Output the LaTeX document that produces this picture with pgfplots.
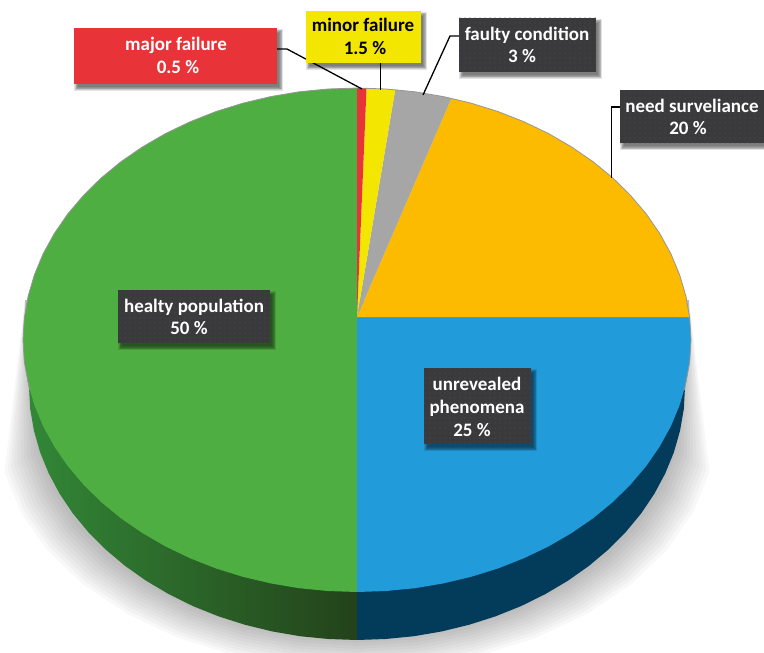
\documentclass[border=0pt]{standalone}
\usepackage{pgfplots}
\pgfplotsset{compat=1.18}
\usepackage{pgfplotstable}
\usepackage{fontspec}
\setmainfont{Carlito}
\usetikzlibrary{patterns.meta}

\definecolor{cGreen}{RGB}{79,174,66}
\definecolor{cBlue}{RGB}{33,155,217}
\definecolor{cOrange}{RGB}{253,187,0}
\definecolor{cGrey}{RGB}{166,166,166}
\definecolor{cYellow}{RGB}{243,230,0}
\definecolor{cRed}{RGB}{232,51,56}
\definecolor{cSideBlue}{RGB}{3,59,90}
\definecolor{cSideGreenA}{RGB}{50,135,55}
\definecolor{cSideGreenB}{RGB}{33,98,38}
\definecolor{cSideGreenC}{RGB}{35,66,26}
\definecolor{cBox}{RGB}{58,58,60}
\definecolor{cDot}{RGB}{76,76,78}
\definecolor{cRim}{RGB}{150,150,150}

% Unit half ellipse for the cast shadow; w=0 marks the fixed flank points given in pixels
\pgfplotstableread{
u v w
25 300 0
-0.9848 0.1736 1
-0.9397 0.3420 1
-0.8660 0.5000 1
-0.7660 0.6428 1
-0.6428 0.7660 1
-0.5000 0.8660 1
-0.3420 0.9397 1
-0.1736 0.9848 1
0 1 1
0.1736 0.9848 1
0.3420 0.9397 1
0.5000 0.8660 1
0.6428 0.7660 1
0.7660 0.6428 1
0.8660 0.5000 1
0.9397 0.3420 1
0.9848 0.1736 1
689 300 0
}\shadowtab

% Upper rim of the disc, drawn as a fine grey edge
\pgfplotstableread{
x y
29.6 390
24.3 362
23 340
24.3 318
28.1 296.2
34.4 274.8
43.1 253.8
54.3 233.5
67.7 214
83.4 195.5
101.1 178
120.8 161.8
142.3 147
165.4 133.6
190 121.8
215.8 111.6
242.8 103.2
270.6 96.6
299 91.8
327.9 89
357 88
386.1 89
415 91.8
443.4 96.6
471.2 103.2
498.2 111.6
524 121.8
548.6 133.6
571.7 147
593.2 161.8
612.9 178
630.6 195.5
646.3 214
659.7 233.5
670.9 253.8
679.6 274.8
685.9 296.2
689.7 318
691 340
689.7 362
684.4 390
}\rimtab

% Label box: soft drop shadow built from widening translucent rectangles, then the face
\newcommand{\shadowring}[5]{%
  \fill[black,opacity=0.11,xshift=3bp,yshift=-4bp]
    (axis cs:#1-#5,#2-#5) rectangle (axis cs:#3+#5,#4+#5);}
\newcommand{\boxshadow}[4]{%
  \shadowring{#1}{#2}{#3}{#4}{3}%
  \shadowring{#1}{#2}{#3}{#4}{2.2}%
  \shadowring{#1}{#2}{#3}{#4}{1.5}%
  \shadowring{#1}{#2}{#3}{#4}{0.8}%
  \shadowring{#1}{#2}{#3}{#4}{0}%
  \shadowring{#1}{#2}{#3}{#4}{-0.8}%
}
\newcommand{\darkbox}[4]{%
  \boxshadow{#1}{#2}{#3}{#4}%
  \fill[cBox] (axis cs:#1,#2) rectangle (axis cs:#3,#4);
  \fill[pattern={Dots[distance=5bp,radius=0.55bp]},pattern color=cDot] (axis cs:#1,#2) rectangle (axis cs:#3,#4);
}
\newcommand{\flatbox}[5]{%
  \boxshadow{#1}{#2}{#3}{#4}%
  \fill[#5] (axis cs:#1,#2) rectangle (axis cs:#3,#4);
}
\newcommand{\lab}[4]{\node[anchor=base,inner sep=0pt,text=#4,font=\fontsize{19bp}{21bp}\selectfont\bfseries] at (axis cs:#1,#2) {#3};}

\begin{document}
\begin{tikzpicture}
\path[use as bounding box] (0,0) rectangle (764bp,653bp);
\begin{axis}[
  at={(0,0)},anchor=south west,
  scale only axis,width=764bp,height=653bp,
  xmin=0,xmax=764,ymin=0,ymax=653,y dir=reverse,
  hide axis,
]
% Cast shadow: stacked translucent outlines growing outwards
\pgfplotsinvokeforeach{0,0.1,0.2,0.3,0.4,0.5,0.6,0.7,0.8,0.9,1}{
  \addplot[draw=none,fill=black,fill opacity=0.027,forget plot]
    table[
      x expr=\thisrow{w}*(357+\thisrow{u}*(325+33*#1))+(1-\thisrow{w})*\thisrow{u},
      y expr=\thisrow{w}*(410+20*#1+\thisrow{v}*(230+10*#1))+(1-\thisrow{w})*\thisrow{v}
    ] {\shadowtab} -- cycle;
}

% Side wall, green half
\addplot[draw=none,shade,left color=cSideGreenA,middle color=cSideGreenB,right color=cSideGreenC] coordinates {
 (357,387)(29,387)(30.2,409)(34,430.9)(40.2,452.5)(48.8,473.5)(59.7,493.9)(72.9,513.5)(88.3,532.1)
 (105.7,549.6)(125.1,565.9)(146.2,580.8)(168.9,594.2)(193,606.1)(218.4,616.3)(244.8,624.7)
 (272.1,631.4)(300,636.2)(328.4,639)(357,640)} -- cycle;
% Side wall, blue half
\addplot[draw=none,fill=cSideBlue] coordinates {
 (357,387)(685,387)(683.8,409)(680,430.9)(673.8,452.5)(665.2,473.5)(654.3,493.9)(641.1,513.5)(625.7,532.1)
 (608.3,549.6)(588.9,565.9)(567.8,580.8)(545.1,594.2)(521,606.1)(495.6,616.3)(469.2,624.7)
 (441.9,631.4)(414,636.2)(385.6,639)(357,640)} -- cycle;

% healty population, 50 %
\addplot[draw=none,fill=cGreen] coordinates {
 (357,317)(357,592)(327.9,591)(299,588.2)(270.6,583.4)(242.8,576.8)(215.8,568.4)(190,558.2)(165.4,546.4)
 (142.3,533)(120.8,518.2)(101.1,502)(83.4,484.5)(67.7,466)(54.3,446.5)(43.1,426.2)(34.4,405.2)(28.1,383.8)
 (24.3,362)(23,340)(24.3,318)(28.1,296.2)(34.4,274.8)(43.1,253.8)(54.3,233.5)(67.7,214)(83.4,195.5)
 (101.1,178)(120.8,161.8)(142.3,147)(165.4,133.6)(190,121.8)(215.8,111.6)(242.8,103.2)(270.6,96.6)
 (299,91.8)(327.9,89)(357,88)} -- cycle;
% unrevealed phenomena, 25 %
\addplot[draw=none,fill=cBlue] coordinates {
 (357,317)(689.6,317)(689.7,318)(691,340)(689.7,362)(685.9,383.8)(679.6,405.2)(670.9,426.2)(659.7,446.5)
 (646.3,466)(630.6,484.5)(612.9,502)(593.2,518.2)(571.7,533)(548.6,546.4)(524,558.2)(498.2,568.4)
 (471.2,576.8)(443.4,583.4)(415,588.2)(386.1,591)(357,592)} -- cycle;
% need surveliance, 20 %
\addplot[draw=none,fill=cOrange] coordinates {
 (357,317)(451.4,98.3)(471.2,103.2)(498.2,111.6)(524,121.8)(548.6,133.6)(571.7,147)(593.2,161.8)
 (612.9,178)(630.6,195.5)(646.3,214)(659.7,233.5)(670.9,253.8)(679.6,274.8)(685.9,296.2)(689.6,317)} -- cycle;
% faulty condition, 3 %
\addplot[draw=none,fill=cGrey] coordinates {
 (357,317)(395.2,89.7)(415,91.8)(443.4,96.6)(451.4,98.3)} -- cycle;
% minor failure, 1.5 %
\addplot[draw=none,fill=cYellow] coordinates {
 (357,317)(366.5,88.2)(386.1,89)(395.2,89.7)} -- cycle;
% major failure, 0.5 %
\addplot[draw=none,fill=cRed] coordinates {
 (357,317)(357,88)(366.5,88.2)} -- cycle;

\addplot[draw=cRim,line width=0.8bp,no marks] table[x=x,y=y] {\rimtab};

% Leader lines
\addplot[black,line width=1.3bp,no marks] coordinates {(277,49)(287,49)(362,89)};
\addplot[black,line width=1.3bp,no marks] coordinates {(380.5,63)(380.5,90)};
\addplot[black,line width=1.3bp,no marks] coordinates {(459,36)(450,36)(423,95)};
\addplot[black,line width=1.3bp,no marks] coordinates {(620,107)(611.5,107)(611.5,178)};

% Label boxes and their text
\flatbox{74}{28}{277}{84}{cRed}
\lab{176}{51}{major failure}{white}
\lab{178}{74}{0.5 \%}{white}

\flatbox{306}{11}{421}{63}{cYellow}
\lab{363}{32}{minor failure}{black}
\lab{365}{55}{1.5 \%}{black}

\darkbox{459}{18}{596}{72}
\lab{527}{41}{faulty condition}{white}
\lab{522}{63}{3 \%}{white}

\darkbox{620}{90}{764}{143}
\lab{692}{112}{need surveliance}{white}
\lab{688}{134}{20 \%}{white}

\darkbox{118}{290}{270}{343}
\lab{194}{312}{healty population}{white}
\lab{189}{334}{50 \%}{white}

\darkbox{424}{368}{531}{444}
\lab{477}{390}{unrevealed}{white}
\lab{477}{413}{phenomena}{white}
\lab{472}{436}{25 \%}{white}
\end{axis}
\end{tikzpicture}
\end{document}
